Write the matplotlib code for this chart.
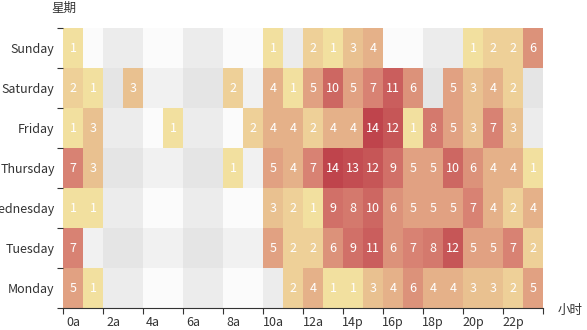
import matplotlib
matplotlib.use("Agg")
import matplotlib.pyplot as plt
import numpy as np
from matplotlib.colors import LinearSegmentedColormap

plt.rcParams['font.family'] = ['Noto Sans CJK SC', 'DejaVu Sans']

hours = ['0a', '1a', '2a', '3a', '4a', '5a', '6a', '7a', '8a', '9a', '10a', '11a',
         '12a', '13p', '14p', '15p', '16p', '17p', '18p', '19p', '20p', '21p', '22p', '23p']
days = ['Monday', 'Tuesday', 'Wednesday', 'Thursday', 'Friday', 'Saturday', 'Sunday']

monday = [5, 1, 0, 0, 0, 0, 0, 0, 0, 0, 0, 2, 4, 1, 1, 3, 4, 6, 4, 4, 3, 3, 2, 5]
tuesday = [7, 0, 0, 0, 0, 0, 0, 0, 0, 0, 5, 2, 2, 6, 9, 11, 6, 7, 8, 12, 5, 5, 7, 2]
wednesday = [1, 1, 0, 0, 0, 0, 0, 0, 0, 0, 3, 2, 1, 9, 8, 10, 6, 5, 5, 5, 7, 4, 2, 4]
thursday = [7, 3, 0, 0, 0, 0, 0, 0, 1, 0, 5, 4, 7, 14, 13, 12, 9, 5, 5, 10, 6, 4, 4, 1]
friday = [1, 3, 0, 0, 0, 1, 0, 0, 0, 2, 4, 4, 2, 4, 4, 14, 12, 1, 8, 5, 3, 7, 3, 0]
saturday = [2, 1, 0, 3, 0, 0, 0, 0, 2, 0, 4, 1, 5, 10, 5, 7, 11, 6, 0, 5, 3, 4, 2, 0]
sunday = [1, 0, 0, 0, 0, 0, 0, 0, 0, 0, 1, 0, 2, 1, 3, 4, 0, 0, 0, 0, 1, 2, 2, 6]

values = np.array([monday, tuesday, wednesday, thursday, friday, saturday, sunday])
data = np.ma.masked_equal(values, 0)

cmap = LinearSegmentedColormap.from_list('heat', ['#f6efa6', '#d88273', '#bf444c'])

fig = plt.figure(figsize=(5.87, 3.30), dpi=100)
ax = fig.add_axes([63 / 587, 22 / 330, 480 / 587, 280 / 330])
ax.set_facecolor('#fbfbfb')

# split areas (striped background)
for i in range(2, len(hours), 4):
    ax.axvspan(i, i + 2, color='#c8c8c8', alpha=0.29, lw=0, zorder=0)
for j in range(1, len(days), 2):
    ax.axhspan(j, j + 1, color='#c8c8c8', alpha=0.18, lw=0, zorder=0)

ax.pcolormesh(np.arange(len(hours) + 1), np.arange(len(days) + 1), data,
              cmap=cmap, vmin=0, vmax=14, zorder=1)

for j in range(len(days)):
    for i in range(len(hours)):
        v = values[j, i]
        if v:
            ax.text(i + 0.5, j + 0.5, str(v), ha='center', va='center',
                    color='white', fontsize=9, zorder=2)

ax.set_xlim(0, len(hours))
ax.set_ylim(0, len(days))

for s in ['top', 'right', 'left']:
    ax.spines[s].set_visible(False)
ax.spines['bottom'].set_color('#333333')

ax.set_xticks(np.arange(0, len(hours) + 1, 2))
ax.set_xticklabels([])
ax.set_xticks(np.arange(0, len(hours), 2) + 0.5, minor=True)
ax.set_xticklabels(hours[::2], minor=True)
ax.set_yticks(np.arange(0, len(days) + 1))
ax.set_yticklabels([])
ax.set_yticks(np.arange(len(days)) + 0.5, minor=True)
ax.set_yticklabels(days, minor=True)

ax.tick_params(which='major', length=4, color='#333333', width=0.8)
ax.tick_params(which='minor', length=0, labelsize=9, labelcolor='#333333')
ax.tick_params(axis='x', which='minor', pad=5.5)
ax.tick_params(axis='y', which='minor', pad=6)

fig.text(63.5 / 587, 1 - 8 / 330, '星期', ha='center', va='center',
         fontsize=9, color='#333333')
fig.text(558 / 587, 1 - 310 / 330, '小时', ha='left', va='center',
         fontsize=9, color='#333333')

fig.savefig('out.png', dpi=100)
